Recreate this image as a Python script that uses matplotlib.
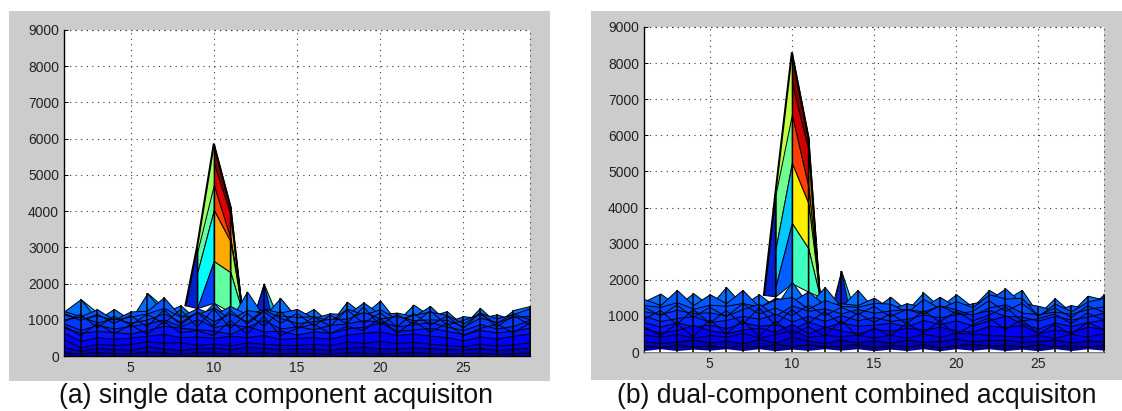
import numpy as np
from matplotlib import pyplot as plt
from matplotlib.patches import Rectangle

plt.rcParams['font.family'] = ['Liberation Sans', 'DejaVu Sans']

W = 1122; H = 411
x = np.arange(1, 30)

xticks = [5, 10, 15, 20, 25]
yticks = [0, 1000, 2000, 3000, 4000, 5000, 6000, 7000, 8000, 9000]

caption_a = '(a) single data component acquisiton'
caption_b = '(b) dual-component combined acquisiton'

#==================
#PANEL A SURFACE ROWS
#==================
spike_a = [500,1570,1200,500,500,1740,1350,500,500,500,500,500,2000,900,500,500,500,500,500,500,500,500,500,500,500,500,500,500,500]
spike2_a = [300,300,300,300,300,300,300,300,300,300,300,500,2000,0,300,300,300,300,300,300,300,300,300,300,300,300,300,300,300]
row1_a = [1230,1570,1000,1300,1000,1730,1200,1400,1000,1470,1000,1780,1100,1600,1050,1300,900,1500,1150,1530,950,1420,1100,1240,850,1330,900,1270,1380]
row2_a = [1240,1100,1290,1000,1230,1250,1620,1100,1320,1150,1380,1150,1300,1200,1300,1050,1180,1150,1480,1150,1200,1100,1380,950,1100,1050,1150,1000,1300]
row3_a = [1150,1020,1120,1000,1090,1180,1330,1080,1150,1340,1010,1270,1190,1120,1080,1100,970,1310,1150,1290,1020,1130,1230,1130,900,1190,1040,1160,1320]
row4_a = [1010,1090,930,1040,920,1010,1180,940,1230,960,1180,950,1290,1050,910,960,1030,1030,1220,1040,1100,990,1010,1000,820,1060,930,1080,1110]
row5_a = [900,720,860,760,830,900,1010,820,1020,800,880,810,1000,760,820,740,860,900,990,950,820,870,940,810,720,880,760,830,1000]
row6_a = [780,640,690,660,620,720,830,780,740,700,610,830,680,700,590,680,640,760,810,920,700,730,780,690,600,720,650,700,790]
row7_a = [640,420,520,480,510,560,610,520,540,500,560,520,580,470,500,520,480,590,640,680,580,620,560,520,430,540,480,560,620]
row8_a = [470,230,340,300,330,410,370,380,300,350,290,380,340,310,300,340,300,400,360,420,360,390,340,300,270,340,290,320,380]
row9_a = [240,150,220,190,170,260,210,160,220,230,190,250,220,190,210,190,170,230,250,210,200,240,210,190,180,210,170,190,230]
row10_a = [100,70,110,80,70,130,90,60,110,90,70,90,100,70,90,80,60,110,90,70,90,110,80,70,80,90,60,80,100]
line1_a = [1180,980,1150,900,1120,800,1280,860,1200,820,1260,880,1230,900,1180,830,1120,900,1350,850,1150,880,1250,860,980,1150,900,1160,1000]
line2_a = [950,1150,780,1100,850,1150,900,1280,800,1300,760,1180,820,1240,760,1080,820,1280,900,1200,800,1180,850,1100,760,1200,800,1120,850]
line3_a = [830,560,900,620,860,600,950,640,700,560,980,600,1100,560,760,880,620,820,700,1040,620,960,660,900,560,760,880,640,920]

#==================
#PANEL B SURFACE ROWS
#==================
spike_b = [500,500,500,500,500,500,500,500,500,500,500,500,2250,900,500,500,500,500,500,500,500,500,500,500,500,500,500,500,500]
spike2_b = [300,300,300,300,300,300,300,300,300,300,300,150,2250,0,300,300,300,300,300,300,300,300,300,300,300,300,300,300,300]
row1_b = [1400,1620,1280,1630,1280,1800,1300,1600,1250,1950,1300,1800,1250,1720,1200,1530,1150,1650,1250,1600,1250,1720,1450,1720,1050,1490,1100,1560,1450]
row2_b = [1470,1300,1720,1300,1600,1350,1720,1250,1500,1400,1680,1300,1350,1300,1505,1200,1350,1250,1530,1250,1350,1450,1760,1350,1280,1150,1300,1200,1600]
row3_b = [1300,1250,1380,1200,1310,1280,1360,1250,1460,1520,1200,1440,1280,1250,1360,1340,1100,1470,1210,1410,1240,1600,1480,1500,1000,1340,1130,1400,1500]
row4_b = [1130,1050,1170,1080,1100,1010,1190,1340,1010,1290,1140,1210,1070,1190,1090,1150,1190,1120,1290,1180,1020,1240,1320,1090,1050,1120,1060,1190,1270]
row5_b = [1000,860,940,1000,830,890,1000,920,1060,850,1000,860,1020,880,970,860,920,1040,960,1050,1050,1160,1000,980,870,1000,900,980,1090]
row6_b = [830,700,820,710,760,660,820,730,760,650,840,690,820,730,760,810,710,890,770,880,730,880,1010,790,650,820,720,830,890]
row7_b = [650,540,610,750,600,520,620,680,560,780,520,700,590,520,640,590,670,620,700,600,560,730,690,750,520,620,560,700,640]
row8_b = [480,420,500,390,470,430,530,400,500,610,420,470,440,480,400,480,390,510,420,530,510,470,450,430,470,390,500,430,520]
row9_b = [300,250,290,340,260,310,240,360,260,430,310,250,340,270,320,260,340,280,300,370,290,340,330,290,300,350,260,320,290]
row10_b = [190,130,210,150,190,120,200,150,220,170,210,150,180,220,140,200,160,220,130,190,230,170,200,150,210,160,190,140,210]
line1_b = [1240,1000,1300,960,1240,980,1330,1050,1220,1000,1300,1000,1240,1040,1260,980,1180,1040,1280,1060,1120,1420,1120,1350,1000,1220,960,1280,1100]
line2_b = [900,1150,760,1180,800,1150,760,1220,740,1180,800,1120,760,1080,820,1060,780,1150,830,1130,860,1020,1250,860,920,1050,790,1080,880]
line3_b = [700,450,780,420,900,500,880,430,860,480,700,440,880,430,660,440,800,520,860,480,750,950,620,900,500,760,480,820,620]
floor_b = [40,90,40,80,50,90,40,90,35,80,45,90,50,90,35,80,40,90,35,90,50,90,40,80,35,90,40,90,50]

blues = [(0,.42,1), (0,.35,1), (0,.29,1), (0,.22,1), (0,.15,1), (0,.07,1),
         (0,0,.98), (0,0,.88), (0,0,.75), (0,0,.58)]

#==================
#PEAK ROWS: x, outer edge down to the base
#==================
peak_x = [8.3, 9, 10, 11, 11.7]
peak_a = [[1400,3020,5850,4120,1235],
          [1400,3000,5320,3900,1235],
          [1400,2860,4720,3250,1235],
          [1400,2290,4030,3160,1235],
          [1400,1320,2620,2310,1235],
          [1400,1320,1470,1210,1235]]
peak_b = [[1580,4400,8280,5960,1530],
          [1580,4350,7440,5600,1530],
          [1580,4350,6570,4580,1530],
          [1580,2840,5230,4120,1530],
          [1580,1800,3570,2870,1530],
          [1580,1540,1900,1670,1530]]

left_cols_a = ['#a0ff60', '#a0ff60', '#60ffa0', '#00ffff', '#0040ff']
right_cols_a = ['#800000', '#e00000', '#ff4000', '#ffaa00', '#60ffa0']
edge_cols_a = ['#ffb000', '#ffb000', '#ffb000', '#a0ff60', '#40ffc0']
left_cols_b = ['#c0ff40', '#c0ff40', '#70ff90', '#00c8ff', '#0060ff']
right_cols_b = ['#800000', '#d00000', '#ff4000', '#ffee00', '#40ffc0']
edge_cols_b = ['#b07000', '#b07000', '#ffc000', '#a0ff60', '#40ffc0']


def pixel_axes(left, top, right, bottom):
    return plt.axes([left/W, 1-bottom/H, (right-left)/W, (bottom-top)/H])


def draw_panel(ax, rows, lines, spikes, peak, left_cols, right_cols, edge_cols, floor=None):
    ax.set_facecolor('white')
    dots = (0, (1, 4))
    ax.grid(True, color='#333333', linestyle=dots, linewidth=0.8)
    ax.set_axisbelow(True)

    # peak first, the low rows then cover its foot
    for i in range(len(peak)-1):
        top = np.array(peak[i]); low = np.array(peak[i+1])
        # lime and green on the left side join without a black line
        left_ec = left_cols[i] if i < 2 else 'k'
        ax.fill_between(peak_x[1:3], low[1:3], top[1:3], color=left_cols[i], ec=left_ec, lw=0.7, zorder=2)
        ax.fill_between(peak_x[2:4], low[2:4], top[2:4], color=right_cols[i], ec='k', lw=0.7, zorder=2)
        ax.fill_between(peak_x[3:5], low[3:5], top[3:5], color=edge_cols[i], ec='k', lw=0.7, zorder=2)
    ax.fill_between(peak_x[0:2], peak[5][0:2], peak[0][0:2], color='#0020d0', ec='k', lw=0.7, zorder=2)
    ax.plot(peak_x, peak[0], color='k', lw=1.5, zorder=3)
    ax.vlines(peak_x[1:4], 0, np.array(peak[0])[1:4], color='k', lw=1.0, zorder=3)

    ax.fill_between(x, 0, spikes[0], color='#00b4f0', ec='k', lw=0.7, zorder=4)
    ax.fill_between(x, 0, spikes[1], color='#0020d0', ec='k', lw=0.7, zorder=4)
    for r, c in zip(rows, blues):
        ax.fill_between(x, 0, r, color=c, ec='k', lw=0.7, zorder=4)
    for l in lines:
        ax.plot(x, l, color='k', lw=0.7, zorder=4)

    if floor is not None:
        ax.fill_between(x, 0, floor, color='white', lw=0, zorder=4)
    ax.vlines(x, 0, np.max(rows + spikes, axis=0), color='k', lw=1.1, zorder=5)

    ax.set_xlim(1, 29)
    ax.set_ylim(0, 9000)
    ax.set_xticks(xticks)
    ax.set_yticks(yticks)
    ax.tick_params(direction='in', length=3, width=0.7, labelsize=10, labelcolor='#222222', pad=3.6)
    ax.spines['top'].set_visible(False)
    ax.spines['right'].set_visible(False)
    ax.spines['left'].set_linewidth(1.0)
    ax.spines['bottom'].set_linewidth(1.0)
    if floor is not None:
        ax.spines['bottom'].set_color('#777777')
    # right edge and top edge carry the grid dots
    ax.plot([29, 29], [0, 9000], color='#333333', linestyle=dots, lw=0.8, clip_on=False, zorder=1)
    ax.plot([1, 29], [9000, 9000], color='#333333', linestyle=dots, lw=0.8, clip_on=False, zorder=1)


fig = plt.figure(figsize=(W/100, H/100), dpi=100, facecolor='white')

fig.add_artist(Rectangle((9/W, 1-381/H), 541/W, 370/H, transform=fig.transFigure, color='#cccccc', lw=0, zorder=-1))
fig.add_artist(Rectangle((591/W, 1-380/H), 531/W, 369/H, transform=fig.transFigure, color='#cccccc', lw=0, zorder=-1))

rows_a = [row1_a, row2_a, row3_a, row4_a, row5_a, row6_a, row7_a, row8_a, row9_a, row10_a]
rows_b = [row1_b, row2_b, row3_b, row4_b, row5_b, row6_b, row7_b, row8_b, row9_b, row10_b]

ax1 = pixel_axes(64, 30, 530, 356)
draw_panel(ax1, rows_a, [line1_a, line2_a, line3_a], [spike_a, spike2_a], peak_a,
           left_cols_a, right_cols_a, edge_cols_a)

ax2 = pixel_axes(644, 27, 1104, 352)
draw_panel(ax2, rows_b, [line1_b, line2_b, line3_b], [spike_b, spike2_b], peak_b,
           left_cols_b, right_cols_b, edge_cols_b, floor_b)

fig.text(276/W, 1-396/H, caption_a, ha='center', va='center', fontsize=19.1, color='#111111')
fig.text(857/W, 1-396/H, caption_b, ha='center', va='center', fontsize=19.1, color='#111111')

fig.savefig('out.png', dpi=100)
